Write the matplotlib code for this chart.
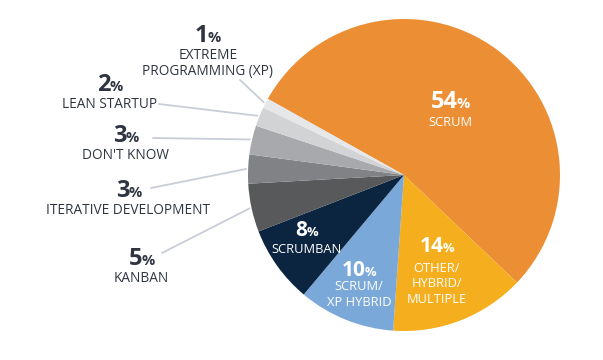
import numpy as np
import matplotlib
matplotlib.use("Agg")
import matplotlib.pyplot as plt

categories = ["SCRUM", "OTHER/\nHYBRID/\nMULTIPLE", "SCRUM/\nXP HYBRID", "SCRUMBAN",
              "KANBAN", "ITERATIVE DEVELOPMENT", "DON'T KNOW", "LEAN STARTUP",
              "EXTREME\nPROGRAMMING (XP)"]
values = [54, 14, 10, 8, 5, 3, 3, 2, 1]
colors = ["#EC8F34", "#F5AF1E", "#7AA8D8", "#0B2440", "#58595B",
          "#808285", "#A7A9AC", "#D1D3D4", "#E6E7E8"]

W, H = 603, 360
fig = plt.figure(figsize=(W / 100, H / 100), dpi=100)
ax = fig.add_axes([0, 0, 1, 1])
ax.set_xlim(0, W)
ax.set_ylim(0, H)
ax.set_aspect("equal")
ax.axis("off")

cx, cy_px, R = 404, 175, 156
center = (cx, H - cy_px)
wedges, _ = ax.pie(values, colors=colors, startangle=150.8, counterclock=False,
                   center=center, radius=R, frame=True,
                   wedgeprops=dict(linewidth=0))
ax.set_xlim(0, W)
ax.set_ylim(0, H)
ax.axis("off")

FONT = "Open Sans"
DARK = "#2E3440"
renderer = fig.canvas.get_renderer()


def pct_label(x, y_px, value, color, size):
    y = H - y_px
    t1 = ax.text(0, y, str(value), fontsize=size, fontweight="bold", family=FONT,
                 color=color, ha="left", va="baseline")
    t2 = ax.text(0, y, "%", fontsize=size * 0.62, fontweight="bold", family=FONT,
                 color=color, ha="left", va="baseline")
    w1 = t1.get_window_extent(renderer).width
    w2 = t2.get_window_extent(renderer).width
    gap = -1.0
    total = w1 + gap + w2
    x0 = x - total / 2
    t1.set_x(x0)
    t2.set_x(x0 + w1 + gap)


def name_label(x, y_px, text, color, size, spacing=15.5):
    for i, line in enumerate(text.split("\n")):
        ax.text(x, H - (y_px + i * spacing), line, fontsize=size, family=FONT,
                color=color, ha="center", va="baseline")


# inside labels: (index, x, pct baseline, name baseline)
inside = [(0, 450, 108, 126, 17), (1, 437, 252, 271.5, 15),
          (2, 359, 275.5, 290.5, 15), (3, 307, 236.5, 253.3, 15)]
for i, x, yb, yn, sz in inside:
    pct_label(x, yb, values[i], "white", sz)
    name_label(x, yn, categories[i], "white", 9.3, spacing=15.7)

# outside labels: (index, x, pct baseline, name baseline, line start)
outside = [(8, 208, 42.5, 59, (240, 80)),
           (7, 109.5, 91, 107.7, (159, 104)),
           (6, 125.5, 142.5, 159, (153, 138)),
           (5, 128.5, 197, 214, (151, 188)),
           (4, 141.5, 265, 281.7, (162, 253))]
for i, x, yb, yn, start in outside:
    pct_label(x, yb, values[i], DARK, 17)
    name_label(x, yn, categories[i], DARK, 9.8, spacing=16.3)
    w = wedges[i]
    mid = np.deg2rad((w.theta1 + w.theta2) / 2)
    ex = cx + (R + 2) * np.cos(mid)
    ey = center[1] + (R + 2) * np.sin(mid)
    ax.plot([start[0], ex], [H - start[1], ey], color="#C8CDD6", lw=1.3,
            solid_capstyle="round", zorder=0)

fig.savefig("out.png", dpi=100, facecolor="white")
